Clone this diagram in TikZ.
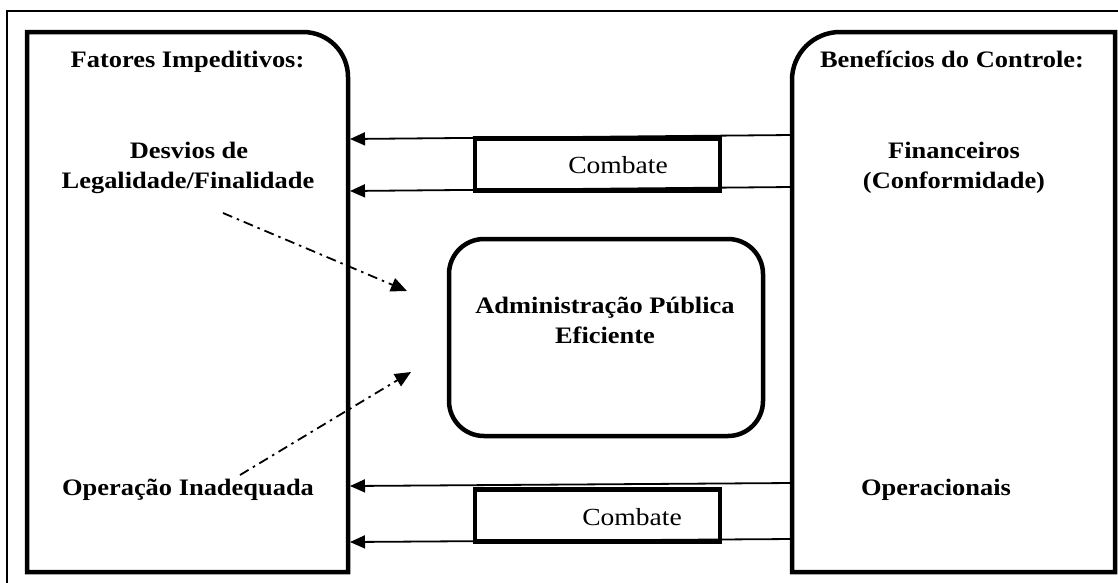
\documentclass[tikz,border=0pt]{standalone}
\usepackage{fontspec}
\setmainfont{Liberation Serif}[FakeStretch=1.12]
\usetikzlibrary{arrows.meta}
\begin{document}
\begin{tikzpicture}[x=1pt,y=-1pt,
  frame/.style={line width=1.8pt},
  panel/.style={line width=4.5pt, line join=miter},
  boxthick/.style={draw, line width=4.5pt, inner sep=0pt},
  lbl/.style={font=\fontsize{23.6}{30}\selectfont\bfseries, inner sep=0pt, anchor=base},
  reg/.style={font=\fontsize{24.6}{30}\selectfont, inner sep=0pt, anchor=base},
  arr/.style={line width=1.8pt, -{Triangle[length=15pt,width=13pt]}},
  dd/.style={line width=1.8pt, dash pattern=on 10pt off 5pt on 2.5pt off 5pt, -{Triangle[length=16pt,width=14pt]}}
]
\useasboundingbox (0,0) rectangle (1118,582);
% outer frame (clipped at right and bottom)
\begin{scope}
  \clip (0,0) rectangle (1118,582);
  \draw[frame] (7,11) rectangle (1135,600);
\end{scope}
% left panel
\draw[panel] (348,572) -- (27,572) -- (27,32) -- (303,32)
  .. controls (328,32) and (348,52) .. (348,77) -- cycle;
% right panel
\draw[panel] (792,572) -- (792,80)
  .. controls (792,53.5) and (813.5,32) .. (840,32) -- (1115,32) -- (1115,572) -- cycle;
% central box
\node[boxthick, rounded corners=35pt, minimum width=314pt, minimum height=197pt] (adm) at (606,337.5) {};
\node[lbl] (adm1) at (605,313) {Administração Pública};
\node[lbl] (adm2) at (605,343) {Eficiente};
% combate boxes
\node[boxthick, minimum width=245pt, minimum height=52pt] (cb1) at (597.5,164.5) {};
\node[reg] (cbt1) at (618,173) {Combate};
\node[boxthick, minimum width=245pt, minimum height=52pt] (cb2) at (597.5,515.5) {};
\node[reg] (cbt2) at (632,525) {Combate};
% left texts
\node[lbl] (fat) at (187.5,67) {Fatores Impeditivos:};
\node[lbl] (des1) at (189,158) {Desvios de};
\node[lbl] (des2) at (188,188) {Legalidade/Finalidade};
\node[lbl] (ope) at (188,495) {Operação Inadequada};
% right texts
\node[lbl] (ben) at (952,67) {Benefícios do Controle:};
\node[lbl] (fin1) at (954,158) {Financeiros};
\node[lbl] (fin2) at (954,188) {(Conformidade)};
\node[lbl] (opr) at (936,495) {Operacionais};
% arrow end points on panel edges
\coordinate (r1) at (792,135);  \coordinate (l1) at (350,139);
\coordinate (r2) at (792,187);  \coordinate (l2) at (350,191);
\coordinate (r3) at (792,483);  \coordinate (l3) at (350,486);
\coordinate (r4) at (792,539);  \coordinate (l4) at (350,542);
\draw[arr] (r1) -- (l1);
\draw[arr] (r2) -- (l2);
\draw[arr] (r3) -- (l3);
\draw[arr] (r4) -- (l4);
% dash-dot arrows
\coordinate (d1s) at (223,213); \coordinate (d1e) at (407,291);
\coordinate (d2s) at (240,475); \coordinate (d2e) at (411,372);
\draw[dd] (d1s) -- (d1e);
\draw[dd] (d2s) -- (d2e);
\end{tikzpicture}
\end{document}
